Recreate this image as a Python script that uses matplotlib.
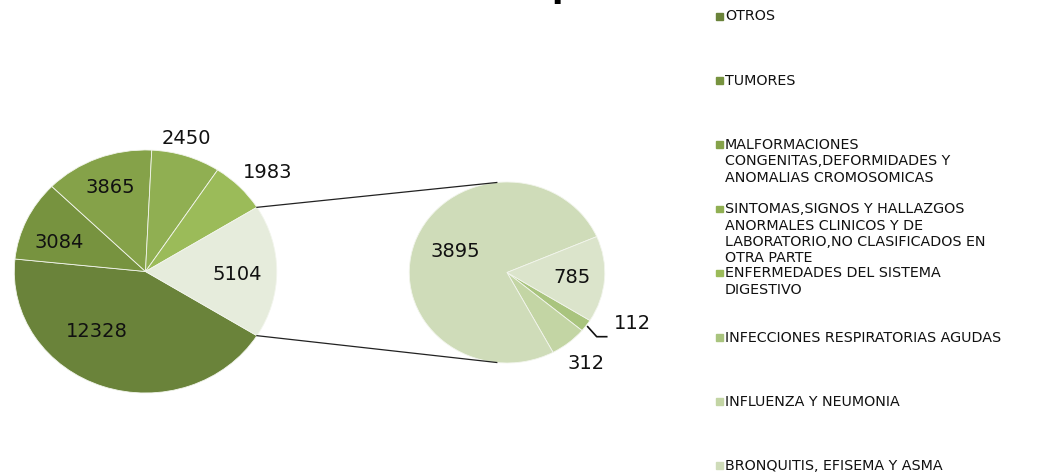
import numpy as np
import matplotlib
matplotlib.use("Agg")
import matplotlib.pyplot as plt

plt.rcParams['font.family'] = ['DejaVu Sans']

# main pie (clockwise order as drawn), last slice is the group split in the small pie
main_labels = ['OTROS', 'TUMORES',
               'MALFORMACIONES\nCONGENITAS,DEFORMIDADES Y\nANOMALIAS CROMOSOMICAS',
               'SINTOMAS,SIGNOS Y HALLAZGOS\nANORMALES CLINICOS Y DE\nLABORATORIO,NO CLASIFICADOS EN\nOTRA PARTE',
               'ENFERMEDADES DEL SISTEMA\nDIGESTIVO']
main_values = [12328, 3084, 3865, 2450, 1983]
main_colors = ['#6a833a', '#77933f', '#85a249', '#90af52', '#9bbb59']
other_color = '#e6ecdc'

# secondary pie (clockwise order)
sub_labels = ['INFECCIONES RESPIRATORIAS AGUDAS', 'INFLUENZA Y NEUMONIA',
              'BRONQUITIS, EFISEMA Y ASMA', '']
sub_values = [112, 312, 3895, 785]
sub_colors = ['#a9c47e', '#c3d5a4', '#cfdcb9', '#dbe4cb']

# label placement: (radius factor, angle offset in degrees)
main_lab_pos = [(0.62, -18), (0.70, 5), (0.74, 0), (1.14, 2), (1.24, -3), (0.70, -2)]
sub_lab_pos = [(1.40, 12), (1.29, 0), (0.58, -4), (0.67, 0)]

W, H = 1061, 475
sx = 1.08  # the original picture is stretched horizontally
fig = plt.figure(figsize=(W / 100, H / 100), dpi=100)
ax = fig.add_axes([0, 0, 1, 1])

c1, r1 = (145.5 / sx, H - 271.5), 121.5
c2, r2 = (507 / sx, H - 272.5), 90.5

vals1 = main_values + [sum(sub_values)]
cols1 = main_colors + [other_color]
start1 = -180.0 * vals1[-1] / sum(vals1)
w1, _ = ax.pie(vals1, colors=cols1, center=c1, radius=r1, startangle=start1,
               counterclock=False, wedgeprops=dict(edgecolor='#f2f5ec', linewidth=0.6))
w2, _ = ax.pie(sub_values, colors=sub_colors, center=c2, radius=r2, startangle=-32,
               counterclock=False, wedgeprops=dict(edgecolor='#f2f5ec', linewidth=0.6))


def put_labels(wedges, values, center, r, pos):
    for w, v, (f, off) in zip(wedges, values, pos):
        a = np.deg2rad((w.theta1 + w.theta2) / 2 + off)
        ax.text(center[0] + f * r * np.cos(a), center[1] + f * r * np.sin(a), str(v),
                ha='center', va='center', fontsize=14, color='#111111')


put_labels(w1, vals1, c1, r1, main_lab_pos)
put_labels(w2, sub_values, c2, r2, sub_lab_pos)

# leader line for the tiny 112 slice
wt = w2[0]
a = np.deg2rad((wt.theta1 + wt.theta2) / 2)
x0, y0 = c2[0] + r2 * 1.02 * np.cos(a), c2[1] + r2 * 1.02 * np.sin(a)
ax.plot([x0, x0 + 9 / sx, x0 + 19 / sx], [y0, y0 - 10, y0 - 10], color='#111111', lw=1.2)

# connector lines between pies
other = w1[-1]
for t1, t2 in [(other.theta1, -96), (other.theta2, 96)]:
    p = np.deg2rad(t1)
    q = np.deg2rad(t2)
    ax.plot([c1[0] + r1 * np.cos(p), c2[0] + r2 * np.cos(q)],
            [c1[1] + r1 * np.sin(p), c2[1] + r2 * np.sin(q)], color='#222222', lw=0.9)

ax.set_aspect('auto')
ax.set_xlim(0, W / sx)
ax.set_ylim(0, H)
ax.axis('off')

# legend, drawn like the Excel one
leg_labels = main_labels + sub_labels[:3]
leg_colors = main_colors + sub_colors[:3]
for i, (lab, col) in enumerate(zip(leg_labels, leg_colors)):
    y = 16 + i * 64.2
    fig.patches.append(plt.Rectangle((716 / W, 1 - (y + 3.5) / H), 6.5 / W, 6.5 / H,
                                     transform=fig.transFigure, color=col))
    fig.text(725 / W, 1 - (y - 6.5) / H, lab, fontsize=10.3, va='top', ha='left',
             color='#111111', linespacing=1.22)

# bit of the cut title
fig.text(551 / W, 1.0 + 2.5 / H, 'p', fontsize=24, fontweight='bold', va='baseline', ha='left')

fig.savefig('out.png', dpi=100)
